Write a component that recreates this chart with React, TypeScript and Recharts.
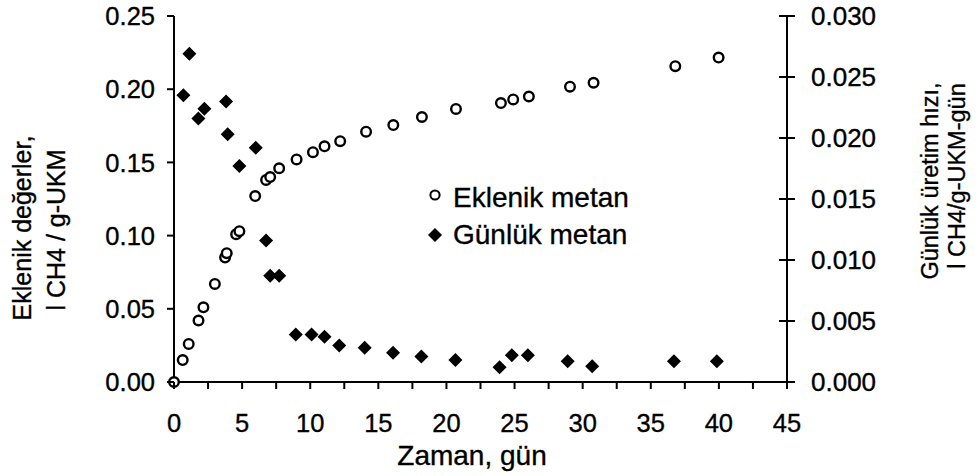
import React from 'react';
import { ScatterChart, Scatter, XAxis, YAxis, Legend } from 'recharts';

const FONT = '"Liberation Sans", Arial, Helvetica, sans-serif';
const TXT = { fontFamily: FONT, fill: '#000', stroke: '#000', strokeWidth: 0.35 } as const;

const cumName = 'Eklenik metan';
const dailyName = 'Günlük metan';

const cumDays = [0, 0.64, 1.08, 1.8, 2.16, 3.0, 3.75, 3.87, 4.56, 4.8, 5.96, 6.76, 7.06, 7.72, 9.0, 10.2, 11.05, 12.2, 14.1, 16.1, 18.2, 20.7, 24.0, 24.9, 26.05, 29.07, 30.8, 36.8, 39.98];
const cumValues = [0, 0.015, 0.026, 0.042, 0.051, 0.067, 0.085, 0.088, 0.101, 0.103, 0.127, 0.138, 0.14, 0.146, 0.152, 0.157, 0.161, 0.1645, 0.171, 0.1755, 0.181, 0.1865, 0.1905, 0.193, 0.195, 0.2017, 0.2044, 0.2157, 0.2216];

const dailyDays = [0.69, 1.13, 1.79, 2.23, 3.82, 3.94, 4.8, 6.0, 6.76, 7.06, 7.72, 8.94, 10.1, 11.05, 12.13, 14.0, 16.08, 18.16, 20.66, 23.9, 24.8, 25.98, 28.9, 30.7, 36.7, 39.85];
const dailyValues = [0.0235, 0.0269, 0.0216, 0.0224, 0.023, 0.0203, 0.0177, 0.0192, 0.0116, 0.0087, 0.0087, 0.0039, 0.0039, 0.0037, 0.003, 0.0028, 0.0024, 0.0021, 0.0018, 0.0012, 0.0022, 0.0022, 0.0017, 0.0013, 0.0017, 0.0017];

const xTicks = [0, 2.5, 5, 7.5, 10, 12.5, 15, 17.5, 20, 22.5, 25, 27.5, 30, 32.5, 35, 37.5, 40, 42.5, 45];
const leftTicks = [0, 0.05, 0.1, 0.15, 0.2, 0.25];
const rightTicks = [0, 0.005, 0.01, 0.015, 0.02, 0.025, 0.03];

const cumData = cumDays.map((x, i) => ({ x, y: cumValues[i] }));
const dailyData = dailyDays.map((x, i) => ({ x, y: dailyValues[i] }));

const CircleShape = (props: any) => (
  <circle cx={props.cx} cy={props.cy} r={4.8} fill="#fff" stroke="#000" strokeWidth={2.4} />
);
const DiamondShape = (props: any) => {
  const { cx, cy } = props;
  const s = 7;
  return <polygon points={`${cx},${cy - s} ${cx + s},${cy} ${cx},${cy + s} ${cx - s},${cy}`} fill="#000" />;
};

const XTick = (props: any) => {
  const { x, y, payload } = props;
  const v = payload.value;
  const major = Math.abs(v % 5) < 1e-9;
  return (
    <g>
      <line x1={x} x2={x} y1={y} y2={y + 7} stroke="#000" strokeWidth={2} />
      {major && (
        <text x={x} y={y + 50} textAnchor="middle" fontSize={25.5} {...TXT}>
          {String(v)}
        </text>
      )}
    </g>
  );
};

const LeftTick = (props: any) => {
  const { x, y, payload } = props;
  return (
    <g>
      <line x1={x - 7} x2={x} y1={y} y2={y} stroke="#000" strokeWidth={2} />
      <text x={x - 19} y={y} dy="0.36em" textAnchor="end" fontSize={25.5} {...TXT}>
        {Number(payload.value).toFixed(2)}
      </text>
    </g>
  );
};

const RightTick = (props: any) => {
  const { x, y, payload } = props;
  return (
    <g>
      <line x1={x - 8} x2={x + 8} y1={y} y2={y} stroke="#000" strokeWidth={2} />
      <text x={x + 24} y={y} dy="0.36em" textAnchor="start" fontSize={26} {...TXT}>
        {Number(payload.value).toFixed(3)}
      </text>
    </g>
  );
};

const XTitle = () => (
  <text x={472} y={465} textAnchor="middle" fontSize={28} {...TXT}>
    Zaman, gün
  </text>
);

const LeftTitle = () => (
  <g fontSize={25} {...TXT}>
    <text x={31} y={228} transform="rotate(-90 31 228)" textAnchor="middle">Eklenik değerler,</text>
    <text x={65} y={230} transform="rotate(-90 65 230)" textAnchor="middle">l CH4 / g-UKM</text>
  </g>
);

const RightTitle = () => (
  <g fontSize={23.5} {...TXT}>
    <text x={938} y={181} transform="rotate(-90 938 181)" textAnchor="middle">Günlük üretim hızı,</text>
    <text x={965} y={176} transform="rotate(-90 965 176)" textAnchor="middle">l CH4/g-UKM-gün</text>
  </g>
);

const LegendContent = () => (
  <svg width={230} height={90} style={{ display: 'block' }}>
    <circle cx={15} cy={25} r={4.6} fill="#fff" stroke="#000" strokeWidth={2} />
    <text x={33} y={37} fontSize={28} {...TXT}>{cumName}</text>
    <polygon points="15,58 22,65 15,72 8,65" fill="#000" />
    <text x={33} y={74} fontSize={28} {...TXT}>{dailyName}</text>
  </svg>
);

export default function App() {
  return (
    <div style={{ position: 'absolute', left: 0, top: 0, width: 980, height: 476, background: '#fff' }}>
      <ScatterChart width={980} height={476} margin={{ top: 16, right: 0, bottom: 0, left: 0 }}>
        <XAxis
          type="number"
          dataKey="x"
          domain={[0, 45]}
          ticks={xTicks}
          interval={0}
          height={94}
          tickSize={0}
          tickMargin={0}
          tickLine={false}
          axisLine={{ stroke: '#000', strokeWidth: 2 }}
          tick={<XTick />}
          label={<XTitle />}
        />
        <YAxis
          yAxisId="left"
          orientation="left"
          type="number"
          dataKey="y"
          domain={[0, 0.25]}
          ticks={leftTicks}
          interval={0}
          width={174}
          tickSize={0}
          tickMargin={0}
          tickLine={false}
          axisLine={{ stroke: '#000', strokeWidth: 2 }}
          tick={<LeftTick />}
          label={<LeftTitle />}
        />
        <YAxis
          yAxisId="right"
          orientation="right"
          type="number"
          dataKey="y"
          domain={[0, 0.03]}
          ticks={rightTicks}
          interval={0}
          width={193}
          tickSize={0}
          tickMargin={0}
          tickLine={false}
          axisLine={{ stroke: '#000', strokeWidth: 2 }}
          tick={<RightTick />}
          label={<RightTitle />}
        />
        <Legend
          layout="vertical"
          align="center"
          verticalAlign="middle"
          content={<LegendContent />}
          wrapperStyle={{ position: 'absolute', left: 420, top: 170, width: 230, height: 90 }}
        />
        <Scatter name={dailyName} yAxisId="right" data={dailyData} shape={<DiamondShape />} isAnimationActive={false} />
        <Scatter name={cumName} yAxisId="left" data={cumData} shape={<CircleShape />} isAnimationActive={false} />
      </ScatterChart>
    </div>
  );
}
